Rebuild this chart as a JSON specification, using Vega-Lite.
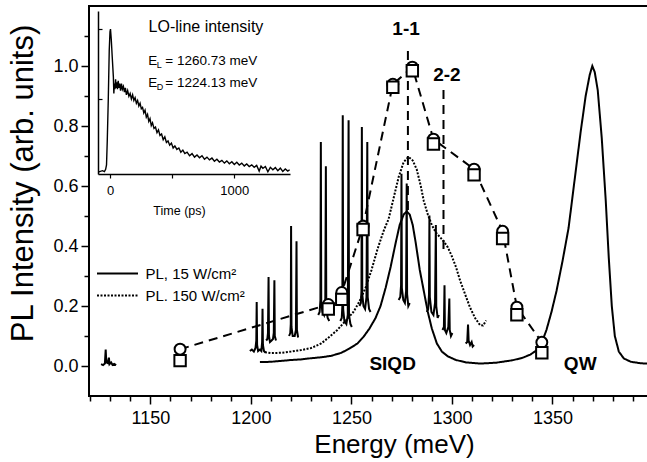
{
  "$schema": "https://vega.github.io/schema/vega-lite/v6.json",
  "width": 560,
  "height": 390,
  "autosize": "none",
  "padding": {"left": 89, "top": 6, "right": 0, "bottom": 66},
  "background": "white",
  "config": {
    "view": {"stroke": "black", "strokeWidth": 2},
    "font": "Liberation Sans",
    "axis": {"labelFont": "Liberation Sans", "titleFont": "Liberation Sans", "labelColor": "black", "titleColor": "black", "tickColor": "black", "domainColor": "black", "grid": false, "labelOverlap": false},
    "legend": {"labelFont": "Liberation Sans"},
    "text": {"font": "Liberation Sans", "color": "black"}
  },
  "datasets": {
    "spikes": [
      {"g": 1, "e": 1125.5, "v": 0.006}, {"g": 1, "e": 1126.5, "v": 0.003}, {"g": 1, "e": 1127.4, "v": 0.008}, {"g": 1, "e": 1127.8, "v": 0.055}, {"g": 1, "e": 1128.1, "v": 0.012}, {"g": 1, "e": 1128.8, "v": 0.01}, {"g": 1, "e": 1129.4, "v": 0.028}, {"g": 1, "e": 1129.7, "v": 0.006}, {"g": 1, "e": 1130.5, "v": 0.012}, {"g": 1, "e": 1131.2, "v": 0.004}, {"g": 1, "e": 1132, "v": 0.007}, {"g": 1, "e": 1133, "v": 0.003},
      {"g": 2, "e": 1199.5, "v": 0.05}, {"g": 2, "e": 1200.5, "v": 0.055}, {"g": 2, "e": 1201.5, "v": 0.048}, {"g": 2, "e": 1202.3, "v": 0.06}, {"g": 2, "e": 1202.7, "v": 0.085}, {"g": 2, "e": 1202.9, "v": 0.213}, {"g": 2, "e": 1203.1, "v": 0.07}, {"g": 2, "e": 1203.6, "v": 0.05}, {"g": 2, "e": 1204.5, "v": 0.055}, {"g": 2, "e": 1205.2, "v": 0.05}, {"g": 2, "e": 1205.6, "v": 0.08}, {"g": 2, "e": 1205.8, "v": 0.191}, {"g": 2, "e": 1206, "v": 0.07}, {"g": 2, "e": 1206.5, "v": 0.05}, {"g": 2, "e": 1207.2, "v": 0.045},
      {"g": 3, "e": 1207.6, "v": 0.085}, {"g": 3, "e": 1208.2, "v": 0.09}, {"g": 3, "e": 1208.5, "v": 0.11}, {"g": 3, "e": 1208.8, "v": 0.297}, {"g": 3, "e": 1209.0, "v": 0.1}, {"g": 3, "e": 1209.5, "v": 0.08}, {"g": 3, "e": 1210.3, "v": 0.085}, {"g": 3, "e": 1211.0, "v": 0.09}, {"g": 3, "e": 1211.4, "v": 0.11}, {"g": 3, "e": 1211.7, "v": 0.286}, {"g": 3, "e": 1211.9, "v": 0.1}, {"g": 3, "e": 1212.5, "v": 0.085},
      {"g": 4, "e": 1219, "v": 0.1}, {"g": 4, "e": 1219.6, "v": 0.11}, {"g": 4, "e": 1219.85, "v": 0.14}, {"g": 4, "e": 1220.0, "v": 0.467}, {"g": 4, "e": 1220.2, "v": 0.13}, {"g": 4, "e": 1220.8, "v": 0.1}, {"g": 4, "e": 1221.8, "v": 0.1}, {"g": 4, "e": 1222.4, "v": 0.12}, {"g": 4, "e": 1222.7, "v": 0.416}, {"g": 4, "e": 1222.9, "v": 0.12}, {"g": 4, "e": 1223.5, "v": 0.095},
      {"g": 5, "e": 1233.5, "v": 0.17}, {"g": 5, "e": 1234.2, "v": 0.18}, {"g": 5, "e": 1234.6, "v": 0.22}, {"g": 5, "e": 1234.8, "v": 0.747}, {"g": 5, "e": 1235.0, "v": 0.21}, {"g": 5, "e": 1235.6, "v": 0.18}, {"g": 5, "e": 1236.4, "v": 0.17}, {"g": 5, "e": 1237.0, "v": 0.2}, {"g": 5, "e": 1237.3, "v": 0.666}, {"g": 5, "e": 1237.5, "v": 0.19}, {"g": 5, "e": 1238.2, "v": 0.16}, {"g": 5, "e": 1239, "v": 0.15},
      {"g": 6, "e": 1244.5, "v": 0.15}, {"g": 6, "e": 1245.2, "v": 0.16}, {"g": 6, "e": 1245.5, "v": 0.2}, {"g": 6, "e": 1245.7, "v": 0.836}, {"g": 6, "e": 1245.9, "v": 0.19}, {"g": 6, "e": 1246.5, "v": 0.15}, {"g": 6, "e": 1247.5, "v": 0.14}, {"g": 6, "e": 1248.2, "v": 0.17}, {"g": 6, "e": 1248.6, "v": 0.819}, {"g": 6, "e": 1248.8, "v": 0.17}, {"g": 6, "e": 1249.5, "v": 0.14}, {"g": 6, "e": 1250.2, "v": 0.13},
      {"g": 7, "e": 1254, "v": 0.2}, {"g": 7, "e": 1254.7, "v": 0.21}, {"g": 7, "e": 1255.0, "v": 0.25}, {"g": 7, "e": 1255.2, "v": 0.797}, {"g": 7, "e": 1255.4, "v": 0.24}, {"g": 7, "e": 1256, "v": 0.2}, {"g": 7, "e": 1256.8, "v": 0.19}, {"g": 7, "e": 1257.5, "v": 0.23}, {"g": 7, "e": 1257.9, "v": 0.747}, {"g": 7, "e": 1258.1, "v": 0.23}, {"g": 7, "e": 1258.8, "v": 0.19}, {"g": 7, "e": 1259.5, "v": 0.18},
      {"g": 8, "e": 1273.5, "v": 0.22}, {"g": 8, "e": 1274.3, "v": 0.23}, {"g": 8, "e": 1274.7, "v": 0.27}, {"g": 8, "e": 1274.9, "v": 0.641}, {"g": 8, "e": 1275.1, "v": 0.26}, {"g": 8, "e": 1275.8, "v": 0.22}, {"g": 8, "e": 1276.6, "v": 0.21}, {"g": 8, "e": 1277.2, "v": 0.25}, {"g": 8, "e": 1277.5, "v": 0.608}, {"g": 8, "e": 1277.7, "v": 0.24}, {"g": 8, "e": 1278.3, "v": 0.2}, {"g": 8, "e": 1279, "v": 0.21},
      {"g": 9, "e": 1287.5, "v": 0.18}, {"g": 9, "e": 1288.2, "v": 0.19}, {"g": 9, "e": 1288.6, "v": 0.24}, {"g": 9, "e": 1288.8, "v": 0.502}, {"g": 9, "e": 1289.0, "v": 0.23}, {"g": 9, "e": 1289.8, "v": 0.18}, {"g": 9, "e": 1290.8, "v": 0.17}, {"g": 9, "e": 1291.6, "v": 0.21}, {"g": 9, "e": 1292.0, "v": 0.47}, {"g": 9, "e": 1292.2, "v": 0.2}, {"g": 9, "e": 1292.9, "v": 0.16}, {"g": 9, "e": 1293.5, "v": 0.17},
      {"g": 10, "e": 1295.3, "v": 0.12}, {"g": 10, "e": 1296, "v": 0.13}, {"g": 10, "e": 1296.3, "v": 0.269}, {"g": 10, "e": 1296.5, "v": 0.12}, {"g": 10, "e": 1297.2, "v": 0.11}, {"g": 10, "e": 1298.2, "v": 0.13}, {"g": 10, "e": 1298.7, "v": 0.225}, {"g": 10, "e": 1298.9, "v": 0.12}, {"g": 10, "e": 1299.5, "v": 0.1}, {"g": 10, "e": 1300.2, "v": 0.11},
      {"g": 11, "e": 1306.8, "v": 0.075}, {"g": 11, "e": 1307.6, "v": 0.08}, {"g": 11, "e": 1308.0, "v": 0.138}, {"g": 11, "e": 1308.3, "v": 0.085}, {"g": 11, "e": 1309, "v": 0.07}, {"g": 11, "e": 1309.8, "v": 0.08}, {"g": 11, "e": 1310.3, "v": 0.065}, {"g": 11, "e": 1311, "v": 0.07}
    ],
    "pl": [
      {"s": "PL, 15 W/cm²", "e": 1204.5, "v": 0.013}, {"s": "PL, 15 W/cm²", "e": 1210, "v": 0.014}, {"s": "PL, 15 W/cm²", "e": 1215, "v": 0.017}, {"s": "PL, 15 W/cm²", "e": 1220, "v": 0.02}, {"s": "PL, 15 W/cm²", "e": 1225, "v": 0.022}, {"s": "PL, 15 W/cm²", "e": 1230, "v": 0.026}, {"s": "PL, 15 W/cm²", "e": 1235, "v": 0.029}, {"s": "PL, 15 W/cm²", "e": 1240, "v": 0.034}, {"s": "PL, 15 W/cm²", "e": 1245, "v": 0.044}, {"s": "PL, 15 W/cm²", "e": 1249, "v": 0.058}, {"s": "PL, 15 W/cm²", "e": 1253, "v": 0.075}, {"s": "PL, 15 W/cm²", "e": 1256, "v": 0.097}, {"s": "PL, 15 W/cm²", "e": 1259, "v": 0.125}, {"s": "PL, 15 W/cm²", "e": 1262, "v": 0.16}, {"s": "PL, 15 W/cm²", "e": 1264.5, "v": 0.2}, {"s": "PL, 15 W/cm²", "e": 1267, "v": 0.26}, {"s": "PL, 15 W/cm²", "e": 1269.5, "v": 0.33}, {"s": "PL, 15 W/cm²", "e": 1272, "v": 0.41}, {"s": "PL, 15 W/cm²", "e": 1274, "v": 0.47}, {"s": "PL, 15 W/cm²", "e": 1276, "v": 0.505}, {"s": "PL, 15 W/cm²", "e": 1277.5, "v": 0.515}, {"s": "PL, 15 W/cm²", "e": 1279, "v": 0.505}, {"s": "PL, 15 W/cm²", "e": 1280.5, "v": 0.47}, {"s": "PL, 15 W/cm²", "e": 1282, "v": 0.41}, {"s": "PL, 15 W/cm²", "e": 1284, "v": 0.32}, {"s": "PL, 15 W/cm²", "e": 1286, "v": 0.25}, {"s": "PL, 15 W/cm²", "e": 1288, "v": 0.18}, {"s": "PL, 15 W/cm²", "e": 1290, "v": 0.125}, {"s": "PL, 15 W/cm²", "e": 1292.5, "v": 0.075}, {"s": "PL, 15 W/cm²", "e": 1295, "v": 0.048}, {"s": "PL, 15 W/cm²", "e": 1298, "v": 0.032}, {"s": "PL, 15 W/cm²", "e": 1302, "v": 0.02}, {"s": "PL, 15 W/cm²", "e": 1307, "v": 0.012}, {"s": "PL, 15 W/cm²", "e": 1314, "v": 0.008}, {"s": "PL, 15 W/cm²", "e": 1322, "v": 0.011}, {"s": "PL, 15 W/cm²", "e": 1330, "v": 0.019}, {"s": "PL, 15 W/cm²", "e": 1335, "v": 0.027}, {"s": "PL, 15 W/cm²", "e": 1339, "v": 0.038}, {"s": "PL, 15 W/cm²", "e": 1342, "v": 0.052}, {"s": "PL, 15 W/cm²", "e": 1344.5, "v": 0.075}, {"s": "PL, 15 W/cm²", "e": 1347, "v": 0.12}, {"s": "PL, 15 W/cm²", "e": 1349.5, "v": 0.18}, {"s": "PL, 15 W/cm²", "e": 1352, "v": 0.25}, {"s": "PL, 15 W/cm²", "e": 1355, "v": 0.35}, {"s": "PL, 15 W/cm²", "e": 1358, "v": 0.46}, {"s": "PL, 15 W/cm²", "e": 1361, "v": 0.62}, {"s": "PL, 15 W/cm²", "e": 1364, "v": 0.78}, {"s": "PL, 15 W/cm²", "e": 1366.5, "v": 0.9}, {"s": "PL, 15 W/cm²", "e": 1368.5, "v": 0.97}, {"s": "PL, 15 W/cm²", "e": 1369.8, "v": 1.0}, {"s": "PL, 15 W/cm²", "e": 1371, "v": 0.98}, {"s": "PL, 15 W/cm²", "e": 1372.5, "v": 0.92}, {"s": "PL, 15 W/cm²", "e": 1374.5, "v": 0.76}, {"s": "PL, 15 W/cm²", "e": 1376.5, "v": 0.55}, {"s": "PL, 15 W/cm²", "e": 1378, "v": 0.36}, {"s": "PL, 15 W/cm²", "e": 1379.5, "v": 0.2}, {"s": "PL, 15 W/cm²", "e": 1381, "v": 0.1}, {"s": "PL, 15 W/cm²", "e": 1383, "v": 0.048}, {"s": "PL, 15 W/cm²", "e": 1385.5, "v": 0.025}, {"s": "PL, 15 W/cm²", "e": 1389, "v": 0.014}, {"s": "PL, 15 W/cm²", "e": 1394, "v": 0.009}, {"s": "PL, 15 W/cm²", "e": 1398, "v": 0.008},
      {"s": "PL. 150 W/cm²", "e": 1207, "v": 0.046}, {"s": "PL. 150 W/cm²", "e": 1210, "v": 0.043}, {"s": "PL. 150 W/cm²", "e": 1215, "v": 0.044}, {"s": "PL. 150 W/cm²", "e": 1220, "v": 0.048}, {"s": "PL. 150 W/cm²", "e": 1225, "v": 0.053}, {"s": "PL. 150 W/cm²", "e": 1230, "v": 0.06}, {"s": "PL. 150 W/cm²", "e": 1235, "v": 0.075}, {"s": "PL. 150 W/cm²", "e": 1239, "v": 0.097}, {"s": "PL. 150 W/cm²", "e": 1243, "v": 0.12}, {"s": "PL. 150 W/cm²", "e": 1247, "v": 0.15}, {"s": "PL. 150 W/cm²", "e": 1251, "v": 0.18}, {"s": "PL. 150 W/cm²", "e": 1254, "v": 0.215}, {"s": "PL. 150 W/cm²", "e": 1257, "v": 0.26}, {"s": "PL. 150 W/cm²", "e": 1260, "v": 0.32}, {"s": "PL. 150 W/cm²", "e": 1263, "v": 0.39}, {"s": "PL. 150 W/cm²", "e": 1266, "v": 0.45}, {"s": "PL. 150 W/cm²", "e": 1268.5, "v": 0.49}, {"s": "PL. 150 W/cm²", "e": 1271, "v": 0.56}, {"s": "PL. 150 W/cm²", "e": 1273.5, "v": 0.63}, {"s": "PL. 150 W/cm²", "e": 1276, "v": 0.68}, {"s": "PL. 150 W/cm²", "e": 1278.4, "v": 0.697}, {"s": "PL. 150 W/cm²", "e": 1280.5, "v": 0.685}, {"s": "PL. 150 W/cm²", "e": 1282.5, "v": 0.655}, {"s": "PL. 150 W/cm²", "e": 1284.5, "v": 0.6}, {"s": "PL. 150 W/cm²", "e": 1286, "v": 0.55}, {"s": "PL. 150 W/cm²", "e": 1288, "v": 0.505}, {"s": "PL. 150 W/cm²", "e": 1290, "v": 0.47}, {"s": "PL. 150 W/cm²", "e": 1292, "v": 0.445}, {"s": "PL. 150 W/cm²", "e": 1294, "v": 0.43}, {"s": "PL. 150 W/cm²", "e": 1296, "v": 0.415}, {"s": "PL. 150 W/cm²", "e": 1298, "v": 0.395}, {"s": "PL. 150 W/cm²", "e": 1300, "v": 0.365}, {"s": "PL. 150 W/cm²", "e": 1302, "v": 0.33}, {"s": "PL. 150 W/cm²", "e": 1304, "v": 0.286}, {"s": "PL. 150 W/cm²", "e": 1306.5, "v": 0.24}, {"s": "PL. 150 W/cm²", "e": 1309, "v": 0.195}, {"s": "PL. 150 W/cm²", "e": 1311.5, "v": 0.16}, {"s": "PL. 150 W/cm²", "e": 1314, "v": 0.136}, {"s": "PL. 150 W/cm²", "e": 1315.5, "v": 0.135}, {"s": "PL. 150 W/cm²", "e": 1317, "v": 0.152}
    ],
    "markers": [
      {"e": 1164.8, "c": 0.056, "q": 0.018}, {"e": 1238.5, "c": 0.205, "q": 0.19}, {"e": 1245.2, "c": 0.245, "q": 0.222}, {"e": 1255.8, "c": 0.466, "q": 0.455}, {"e": 1270.6, "c": 0.939, "q": 0.929}, {"e": 1280.3, "c": 0.996, "q": 0.984}, {"e": 1290.8, "c": 0.756, "q": 0.74}, {"e": 1311.0, "c": 0.656, "q": 0.637}, {"e": 1325.2, "c": 0.449, "q": 0.425}, {"e": 1332.3, "c": 0.196, "q": 0.171}, {"e": 1344.7, "c": 0.079, "q": 0.044}
    ],
    "vlines": [
      {"e": 1278.1, "v1": 0.52, "v2": 1.052}, {"e": 1295.8, "v1": 0.39, "v2": 0.928}
    ],
    "labels": [
      {"t": "1-1", "e": 1277.2, "v": 1.125}, {"t": "2-2", "e": 1297.5, "v": 0.969}, {"t": "SIQD", "e": 1270.5, "v": 0.008}, {"t": "QW", "e": 1363.8, "v": 0.008}
    ],
    "decay": [
      {"t": -90, "v": -0.02}, {"t": -60, "v": -0.012}, {"t": -45, "v": -0.018}, {"t": -35, "v": -0.002}, {"t": -28, "v": 0.03}, {"t": -22, "v": 0.2}, {"t": -14, "v": 0.49}, {"t": -6, "v": 0.85}, {"t": 0, "v": 0.98}, {"t": 4, "v": 1.0}, {"t": 10, "v": 0.93}, {"t": 18, "v": 0.8}, {"t": 27, "v": 0.66}, {"t": 31, "v": 0.54}, {"t": 35, "v": 0.61}, {"t": 40, "v": 0.57}, {"t": 45, "v": 0.64}, {"t": 50, "v": 0.58}, {"t": 55, "v": 0.62}, {"t": 60, "v": 0.57}, {"t": 66, "v": 0.63}, {"t": 72, "v": 0.58}, {"t": 78, "v": 0.61}, {"t": 85, "v": 0.56}, {"t": 92, "v": 0.61}, {"t": 100, "v": 0.57}, {"t": 108, "v": 0.59}, {"t": 116, "v": 0.55}, {"t": 124, "v": 0.58}, {"t": 132, "v": 0.53}, {"t": 142, "v": 0.56}, {"t": 152, "v": 0.52}, {"t": 162, "v": 0.54}, {"t": 172, "v": 0.5}, {"t": 182, "v": 0.53}, {"t": 192, "v": 0.49}, {"t": 202, "v": 0.51}, {"t": 212, "v": 0.47}, {"t": 222, "v": 0.49}, {"t": 232, "v": 0.45}, {"t": 242, "v": 0.47}, {"t": 252, "v": 0.43}, {"t": 262, "v": 0.44}, {"t": 272, "v": 0.4}, {"t": 282, "v": 0.42}, {"t": 292, "v": 0.37}, {"t": 302, "v": 0.39}, {"t": 312, "v": 0.34}, {"t": 322, "v": 0.36}, {"t": 332, "v": 0.31}, {"t": 342, "v": 0.33}, {"t": 354, "v": 0.29}, {"t": 366, "v": 0.3}, {"t": 378, "v": 0.26}, {"t": 390, "v": 0.28}, {"t": 402, "v": 0.24}, {"t": 415, "v": 0.25}, {"t": 428, "v": 0.21}, {"t": 441, "v": 0.23}, {"t": 454, "v": 0.19}, {"t": 467, "v": 0.2}, {"t": 480, "v": 0.17}, {"t": 494, "v": 0.185}, {"t": 508, "v": 0.15}, {"t": 522, "v": 0.165}, {"t": 538, "v": 0.14}, {"t": 554, "v": 0.15}, {"t": 570, "v": 0.12}, {"t": 586, "v": 0.135}, {"t": 602, "v": 0.11}, {"t": 620, "v": 0.12}, {"t": 640, "v": 0.095}, {"t": 660, "v": 0.11}, {"t": 680, "v": 0.085}, {"t": 700, "v": 0.1}, {"t": 720, "v": 0.08}, {"t": 740, "v": 0.095}, {"t": 760, "v": 0.07}, {"t": 780, "v": 0.085}, {"t": 800, "v": 0.065}, {"t": 820, "v": 0.078}, {"t": 840, "v": 0.055}, {"t": 860, "v": 0.07}, {"t": 880, "v": 0.05}, {"t": 900, "v": 0.062}, {"t": 920, "v": 0.042}, {"t": 940, "v": 0.058}, {"t": 960, "v": 0.038}, {"t": 980, "v": 0.052}, {"t": 1000, "v": 0.032}, {"t": 1020, "v": 0.048}, {"t": 1040, "v": 0.028}, {"t": 1060, "v": 0.042}, {"t": 1080, "v": 0.022}, {"t": 1100, "v": 0.036}, {"t": 1120, "v": 0.018}, {"t": 1140, "v": 0.03}, {"t": 1160, "v": 0.012}, {"t": 1180, "v": 0.026}, {"t": 1200, "v": -0.015}, {"t": 1215, "v": 0.02}, {"t": 1230, "v": 0.005}, {"t": 1250, "v": 0.018}, {"t": 1270, "v": -0.02}, {"t": 1290, "v": 0.012}, {"t": 1310, "v": -0.005}, {"t": 1330, "v": 0.01}, {"t": 1350, "v": -0.012}, {"t": 1370, "v": 0.006}, {"t": 1390, "v": -0.018}, {"t": 1410, "v": 0.0}, {"t": 1430, "v": -0.015}, {"t": 1445, "v": -0.005}
    ],
    "insetText": [
      {"sub": "L", "rest": "= 1260.73 meV", "v": 0.774}, {"sub": "D", "rest": "= 1224.13 meV", "v": 0.612}
    ]
  },
  "layer": [
    {
      "layer": [
        {
          "data": {"name": "spikes"},
          "mark": {"type": "line", "color": "black", "strokeWidth": 2},
          "encoding": {
            "x": {"field": "e", "type": "quantitative", "scale": {"domain": [1119.5, 1398], "nice": false, "zero": false},
              "axis": {"orient": "bottom", "values": [1150, 1200, 1250, 1300, 1350],
                "domain": false, "tickWidth": 1.5, "tickSize": 8,
                "format": "d", "labelFontSize": 18, "labelPadding": 5, "labelOverlap": false,
                "title": "Energy (meV)", "titleFontSize": 26, "titleFontWeight": "normal", "titleX": 305, "titleY": 56, "titleBaseline": "alphabetic"}},
            "y": {"field": "v", "type": "quantitative", "scale": {"domain": [-0.1, 1.2], "nice": false, "zero": false},
              "axis": {"orient": "left", "values": [0, 0.2, 0.4, 0.6, 0.8, 1.0],
                "domain": false, "tickWidth": 1.5, "tickSize": 8,
                "format": ".1f", "labelFontSize": 18, "labelPadding": 3, "labelOverlap": false,
                "title": "PL Intensity (arb. units)", "titleFontSize": 31, "titleFontWeight": "normal", "titleAngle": -90, "titleX": -57, "titleY": 177, "titleBaseline": "alphabetic", "titleAlign": "center"}},
            "detail": {"field": "g", "type": "nominal"}
          }
        },
        {
          "data": {"name": "pl"},
          "mark": {"type": "line", "color": "black", "strokeWidth": 2},
          "encoding": {
            "x": {"field": "e", "type": "quantitative", "scale": {"domain": [1119.5, 1398], "nice": false, "zero": false}, "axis": null},
            "y": {"field": "v", "type": "quantitative", "scale": {"domain": [-0.1, 1.2], "nice": false, "zero": false}, "axis": null},
            "strokeDash": {"field": "s", "type": "nominal",
              "scale": {"domain": ["PL, 15 W/cm²", "PL. 150 W/cm²"], "range": [[1, 0], [2, 1.5]]},
              "legend": {"orient": "none", "legendX": 17, "legendY": 256, "title": null, "symbolType": "M-2,0H2", "symbolSize": 420, "symbolStrokeWidth": 2, "symbolStrokeColor": "black", "labelFontSize": 15, "labelColor": "black", "labelOffset": 16.5, "rowPadding": 2, "padding": 0}}
          }
        },
        {
          "data": {"name": "markers"},
          "mark": {"type": "line", "color": "black", "strokeWidth": 2, "strokeDash": [9, 6]},
          "encoding": {
            "x": {"field": "e", "type": "quantitative", "scale": {"domain": [1119.5, 1398], "nice": false, "zero": false},
              "axis": {"orient": "bottom", "values": [1120, 1130, 1140, 1160, 1170, 1180, 1190, 1210, 1220, 1230, 1240, 1260, 1270, 1280, 1290, 1310, 1320, 1330, 1340, 1360, 1370, 1380, 1390],
                "domain": false, "labels": false, "tickWidth": 1.5, "tickSize": 5, "title": null}},
            "y": {"field": "c", "type": "quantitative", "scale": {"domain": [-0.1, 1.2], "nice": false, "zero": false},
              "axis": {"orient": "left", "values": [0.1, 0.3, 0.5, 0.7, 0.9, 1.1],
                "domain": false, "labels": false, "tickWidth": 1.5, "tickSize": 5, "title": null}}
          }
        },
        {
          "data": {"name": "vlines"},
          "mark": {"type": "rule", "color": "black", "strokeWidth": 2, "strokeDash": [9, 6]},
          "encoding": {
            "x": {"field": "e", "type": "quantitative", "scale": {"domain": [1119.5, 1398], "nice": false, "zero": false}, "axis": null},
            "y": {"field": "v1", "type": "quantitative", "scale": {"domain": [-0.1, 1.2], "nice": false, "zero": false}, "axis": null},
            "y2": {"field": "v2"}
          }
        },
        {
          "data": {"name": "markers"},
          "mark": {"type": "point", "shape": "circle", "filled": false, "fill": "white", "fillOpacity": 1, "stroke": "black", "strokeWidth": 2, "size": 120, "opacity": 1},
          "encoding": {
            "x": {"field": "e", "type": "quantitative", "scale": {"domain": [1119.5, 1398], "nice": false, "zero": false}, "axis": null},
            "y": {"field": "c", "type": "quantitative", "scale": {"domain": [-0.1, 1.2], "nice": false, "zero": false}, "axis": null}
          }
        },
        {
          "data": {"name": "markers"},
          "mark": {"type": "point", "shape": "square", "filled": false, "fill": "white", "fillOpacity": 1, "stroke": "black", "strokeWidth": 2, "size": 130, "opacity": 1},
          "encoding": {
            "x": {"field": "e", "type": "quantitative", "scale": {"domain": [1119.5, 1398], "nice": false, "zero": false}, "axis": null},
            "y": {"field": "q", "type": "quantitative", "scale": {"domain": [-0.1, 1.2], "nice": false, "zero": false}, "axis": null}
          }
        },
        {
          "data": {"name": "labels"},
          "mark": {"type": "text", "fontSize": 19, "fontWeight": "bold", "align": "center", "baseline": "middle", "color": "black"},
          "encoding": {
            "x": {"field": "e", "type": "quantitative", "scale": {"domain": [1119.5, 1398], "nice": false, "zero": false}, "axis": null},
            "y": {"field": "v", "type": "quantitative", "scale": {"domain": [-0.1, 1.2], "nice": false, "zero": false}, "axis": null},
            "text": {"field": "t"}
          }
        }
      ],
      "resolve": {"axis": {"x": "independent", "y": "independent"}}
    },
    {
      "layer": [
        {
          "data": {"name": "decay"},
          "mark": {"type": "line", "color": "black", "strokeWidth": 1.4},
          "encoding": {
            "x": {"field": "t", "type": "quantitative", "scale": {"domain": [-96.5, 1448], "range": [9, 201], "nice": false, "zero": false},
              "axis": {"orient": "bottom", "offset": -222, "values": [0, 500, 1000], "format": "d", "labelExpr": "datum.value === 500 ? '' : datum.label",
                "domainWidth": 1.5, "tickWidth": 1.2, "tickSize": 4, "labelFontSize": 13, "labelPadding": 6, "labelOverlap": false,
                "title": "Time (ps)", "titleFontSize": 12.5, "titleFontWeight": "normal", "titleX": 90, "titleY": 36, "titleBaseline": "middle"}},
            "y": {"field": "v", "type": "quantitative", "scale": {"domain": [-0.0357, 1.1286], "range": [168, 5], "nice": false, "zero": false},
              "axis": {"orient": "left", "offset": -9, "values": [0.5, 1.0], "labels": false, "domainWidth": 1.5, "tickWidth": 1.2, "tickSize": -4, "title": null}}
          }
        },
        {
          "data": {"values": [{"t": 772, "v": 1.011, "s": "LO-line intensity"}]},
          "mark": {"type": "text", "fontSize": 16, "align": "center", "baseline": "middle", "color": "black"},
          "encoding": {
            "x": {"field": "t", "type": "quantitative", "scale": {"domain": [-96.5, 1448], "range": [9, 201], "nice": false, "zero": false}},
            "y": {"field": "v", "type": "quantitative", "scale": {"domain": [-0.0357, 1.1286], "range": [168, 5], "nice": false, "zero": false}},
            "text": {"field": "s"}
          }
        },
        {
          "data": {"name": "insetText"},
          "mark": {"type": "text", "fontSize": 13.5, "align": "left", "baseline": "middle", "color": "black"},
          "encoding": {
            "x": {"datum": 308, "type": "quantitative", "scale": {"domain": [-96.5, 1448], "range": [9, 201], "nice": false, "zero": false}},
            "y": {"field": "v", "type": "quantitative", "scale": {"domain": [-0.0357, 1.1286], "range": [168, 5], "nice": false, "zero": false}},
            "text": {"value": "E"}
          }
        },
        {
          "data": {"name": "insetText"},
          "mark": {"type": "text", "fontSize": 9, "align": "left", "baseline": "middle", "dy": 4, "color": "black"},
          "encoding": {
            "x": {"datum": 376, "type": "quantitative", "scale": {"domain": [-96.5, 1448], "range": [9, 201], "nice": false, "zero": false}},
            "y": {"field": "v", "type": "quantitative", "scale": {"domain": [-0.0357, 1.1286], "range": [168, 5], "nice": false, "zero": false}},
            "text": {"field": "sub"}
          }
        },
        {
          "data": {"name": "insetText"},
          "mark": {"type": "text", "fontSize": 13.5, "align": "left", "baseline": "middle", "color": "black"},
          "encoding": {
            "x": {"datum": 445, "type": "quantitative", "scale": {"domain": [-96.5, 1448], "range": [9, 201], "nice": false, "zero": false}},
            "y": {"field": "v", "type": "quantitative", "scale": {"domain": [-0.0357, 1.1286], "range": [168, 5], "nice": false, "zero": false}},
            "text": {"field": "rest"}
          }
        }
      ]
    }
  ],
  "resolve": {"scale": {"x": "independent", "y": "independent"}, "axis": {"x": "independent", "y": "independent"}}
}
